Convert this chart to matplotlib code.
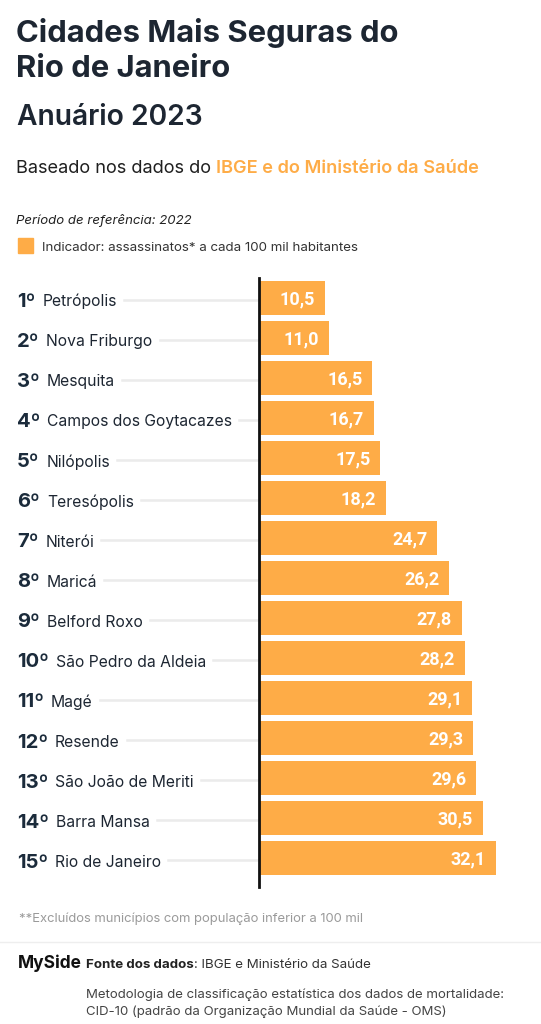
import matplotlib
matplotlib.use('Agg')
import matplotlib.pyplot as plt
from matplotlib.transforms import blended_transform_factory

ranks = ['1º', '2º', '3º', '4º', '5º', '6º', '7º', '8º', '9º', '10º',
         '11º', '12º', '13º', '14º', '15º']
cities = ['Petrópolis', 'Nova Friburgo', 'Mesquita', 'Campos dos Goytacazes',
          'Nilópolis', 'Teresópolis', 'Niterói', 'Maricá', 'Belford Roxo',
          'São Pedro da Aldeia', 'Magé', 'Resende', 'São João de Meriti',
          'Barra Mansa', 'Rio de Janeiro']
values = [10.5, 11.0, 16.5, 16.7, 17.5, 18.2, 24.7, 26.2, 27.8, 28.2,
          29.1, 29.3, 29.6, 30.5, 32.1]

ORANGE = '#FEAC47'
DARK = '#1d2632'
NAVY = '#1b2b3b'

W, H = 541, 1024
fig = plt.figure(figsize=(W / 100, H / 100), dpi=100)
fig.patch.set_facecolor('white')


def fx(px):
    return px / W


def fy(py):
    return 1 - py / H


# chart area
ax = fig.add_axes([fx(259), fy(887), (541 - 259) / W, (887 - 278) / H])
ypos = list(range(len(values)))
ax.barh(ypos, values, height=0.85, color=ORANGE, left=0)
ax.set_xlim(2.15, 2.15 + 282 / 7.9)
ax.set_ylim(len(values) - 1 + 0.725, -0.49)
ax.set_xticks([])
ax.set_yticks([])
for s in ['top', 'right', 'bottom']:
    ax.spines[s].set_visible(False)
ax.spines['left'].set_linewidth(2)
ax.spines['left'].set_color('#111111')
ax.spines['left'].set_zorder(5)

for i, v in enumerate(values):
    ax.annotate(f'{v:.1f}'.replace('.', ','), xy=(v, i), xytext=(-7, -4.6),
                textcoords='offset points', ha='right', va='baseline',
                color='white', fontweight='bold', family='Roboto', fontsize=13)

# row labels and guide lines
fig.canvas.draw()
renderer = fig.canvas.get_renderer()
tr = blended_transform_factory(fig.transFigure, ax.transData)
for i, (r, c) in enumerate(zip(ranks, cities)):
    t1 = fig.text(fx(17), i + 0.24, r, transform=tr, fontsize=14.5,
                  fontweight='bold', family='Inter', color=NAVY, va='baseline')
    e1 = t1.get_window_extent(renderer)
    t2 = fig.text((e1.x1 + 7) / W, i + 0.22, c, transform=tr, fontsize=11.3,
                  family='Inter', color=DARK, va='baseline')
    e2 = t2.get_window_extent(renderer)
    x0 = (e2.x1 + 7) / W
    fig.add_artist(plt.Line2D([x0, fx(258)], [i + 0.05, i + 0.05], transform=tr,
                              color='#ebebeb', lw=1.8, zorder=0))

# header
fig.text(fx(16), fy(41.7), 'Cidades Mais Seguras do', fontsize=22.3,
         fontweight='bold', family='Inter', color=DARK, va='baseline')
fig.text(fx(16), fy(77), 'Rio de Janeiro', fontsize=22.3,
         fontweight='bold', family='Inter', color=DARK, va='baseline')
fig.text(fx(17), fy(125.3), 'Anuário 2023', fontsize=20.3,
         fontweight='semibold', family='Inter', color=DARK, va='baseline')

s1 = fig.text(fx(16), fy(173.3), 'Baseado nos dados do ', fontsize=13.1,
              family='Inter', color='#1f1f1f', va='baseline')
e = s1.get_window_extent(renderer)
fig.text(e.x1 / W, fy(173.3), 'IBGE e do Ministério da Saúde', fontsize=13.1,
         fontweight='semibold', family='Inter', color=ORANGE, va='baseline')

fig.text(fx(16), fy(224), 'Período de referência: 2022', fontsize=9.5,
         style='italic', family='Inter', color='#222222', va='baseline')
fig.add_artist(plt.Rectangle((fx(18), fy(253.3)), 15 / W, 15 / H,
                             transform=fig.transFigure, color=ORANGE))
fig.text(fx(42), fy(251.3), 'Indicador: assassinatos* a cada 100 mil habitantes',
         fontsize=9.6, family='Inter', color='#333333', va='baseline')

# footer
fig.text(fx(19), fy(921.7), '**Excluídos municípios com população inferior a 100 mil',
         fontsize=9.4, family='Inter', color='#9a9a9a', va='baseline')
fig.add_artist(plt.Line2D([0, 1], [fy(941.7), fy(941.7)], transform=fig.transFigure,
                          color='#eeeeee', lw=1))
fig.text(fx(18), fy(968), 'MySide', fontsize=12.5, fontweight='bold',
         family='Inter', color='#111111', va='baseline')
f1 = fig.text(fx(86), fy(968), 'Fonte dos dados', fontsize=9.6, fontweight='bold',
              family='Inter', color='#222222', va='baseline')
e = f1.get_window_extent(renderer)
fig.text(e.x1 / W, fy(968), ': IBGE e Ministério da Saúde', fontsize=9.6,
         family='Inter', color='#333333', va='baseline')
fig.text(fx(86), fy(998), 'Metodologia de classificação estatística dos dados de mortalidade:',
         fontsize=9.5, family='Inter', color='#444444', va='baseline')
fig.text(fx(86), fy(1015), 'CID-10 (padrão da Organização Mundial da Saúde - OMS)',
         fontsize=9.5, family='Inter', color='#444444', va='baseline')

fig.savefig('out.png', dpi=100, facecolor='white')
